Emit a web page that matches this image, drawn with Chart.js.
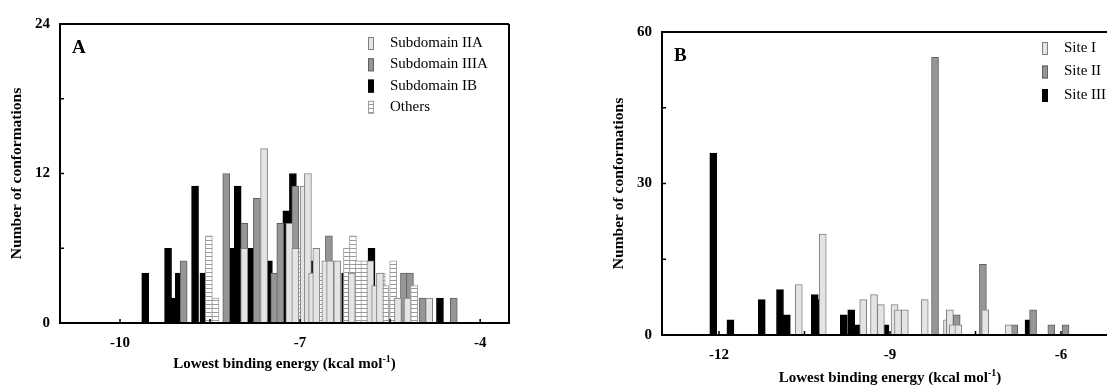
<!DOCTYPE html>
<html>
<head>
<meta charset="utf-8">
<script src="https://cdn.jsdelivr.net/npm/chart.js@4.4.0/dist/chart.umd.min.js"></script>
<style>
html, body { margin: 0; padding: 0; background: #fff; overflow: hidden; width: 1107px; height: 385px; }
#boxA { position: absolute; left: 0; top: 0; width: 540px; height: 385px; }
#boxB { position: absolute; left: 600px; top: 0; width: 530px; height: 385px; }
</style>
</head>
<body>
<div id="boxA"><canvas id="chartA"></canvas></div>
<div id="boxB"><canvas id="chartB"></canvas></div>
<script>
// Panel A - binding energy (kcal/mol) and counts per subdomain
var iiaE  = [-7.93, -7.60, -7.18, -7.08, -6.94, -6.87, -6.80, -6.73, -6.58, -6.50, -6.38, -6.14, -5.83, -5.75, -5.67, -5.37, -5.21, -4.85];
var iiaN  = [6, 14, 8, 6, 11, 12, 4, 6, 5, 5, 5, 4, 5, 3, 4, 2, 2, 2];
var iiiaE = [-8.94, -8.23, -7.93, -7.72, -7.43, -7.33, -7.08, -6.52, -6.22, -6.05, -5.94, -5.45, -5.27, -5.17, -4.96, -4.44];
var iiiaN = [5, 12, 8, 10, 4, 8, 11, 7, 3, 4, 3, 2, 4, 4, 2, 2];
var ibE   = [-9.58, -9.20, -9.11, -9.02, -8.75, -8.61, -8.13, -8.04, -7.83, -7.52, -7.23, -7.12, -6.82, -6.25, -5.81, -4.67];
var ibN   = [4, 6, 2, 4, 11, 4, 6, 11, 6, 5, 9, 12, 5, 4, 6, 2];
var othE  = [-8.52, -8.41, -7.01, -6.66, -6.22, -6.12, -6.02, -5.93, -5.64, -5.58, -5.45, -5.10];
var othN  = [7, 2, 6, 4, 6, 7, 5, 5, 4, 3, 5, 3];

// Panel B - counts per site
var s1E = [-10.60, -10.18, -9.47, -9.28, -9.16, -8.92, -8.86, -8.74, -8.39, -8.00, -7.95, -7.90, -7.80, -7.33, -6.92];
var s1N = [10, 20, 7, 8, 6, 6, 5, 5, 7, 3, 5, 2, 2, 5, 2];
var s2E = [-8.21, -7.83, -7.37, -6.82, -6.49, -6.17, -5.92];
var s2N = [55, 4, 14, 2, 5, 2, 2];
var s3E = [-12.10, -11.80, -11.25, -10.93, -10.81, -10.32, -10.27, -9.81, -9.68, -9.58, -9.08, -6.57];
var s3N = [36, 3, 7, 9, 4, 8, 7, 4, 5, 2, 2, 3];

var xTicksA = [-10, -8.5, -7, -5.5, -4];
var yTicksA = [0, 6, 12, 18, 24];
var xTicksB = [-12, -10.5, -9, -7.5, -6];
var yTicksB = [0, 15, 30, 45, 60];

var serif = "'Liberation Serif', 'Times New Roman', serif";

function pts(xs, ys) {
    return xs.map(function(x, i) { return {x: x, y: ys[i]}; });
}

function stripes() {
    var c = document.createElement('canvas');
    c.width = 4; c.height = 4;
    var g = c.getContext('2d');
    g.fillStyle = '#fff'; g.fillRect(0, 0, 4, 4);
    g.fillStyle = '#999'; g.fillRect(0, 0, 4, 1);
    return g.createPattern(c, 'repeat');
}

function bars(label, xs, ys, fill, border, order) {
    return {
        label: label, data: pts(xs, ys), backgroundColor: fill, borderColor: border,
        borderWidth: 1, barThickness: 7, order: order, grouped: false
    };
}

// frame, inward ticks, panel letter, legend and x title with superscript
var decor = {
    id: 'decor',
    afterDraw: function(chart, args, o) {
        var ctx = chart.ctx, a = chart.chartArea;
        var xs = chart.scales.x, ys = chart.scales.y;
        ctx.save();
        ctx.strokeStyle = '#000';
        ctx.lineWidth = 2;
        ctx.beginPath();
        ctx.moveTo(a.right, a.top); ctx.lineTo(a.left, a.top);
        ctx.lineTo(a.left, a.bottom); ctx.lineTo(a.right, a.bottom);
        ctx.lineTo(a.right, a.top);
        ctx.stroke();
        ctx.lineWidth = 1.5;
        ctx.beginPath();
        xs.ticks.forEach(function(t) {
            var px = xs.getPixelForValue(t.value);
            ctx.moveTo(px, a.bottom); ctx.lineTo(px, a.bottom - 4);
        });
        ys.ticks.forEach(function(t) {
            var py = ys.getPixelForValue(t.value);
            ctx.moveTo(a.left, py); ctx.lineTo(a.left + 4, py);
        });
        ctx.stroke();

        ctx.fillStyle = '#000';
        ctx.textBaseline = 'alphabetic';
        ctx.font = 'bold 19px ' + serif;
        ctx.fillText(o.letter, a.left + 12, a.top + 29);

        // legend
        ctx.font = o.legendSize + 'px ' + serif;
        chart.data.datasets.forEach(function(ds, i) {
            var y = a.top + o.legendY + i * o.legendDy;
            ctx.fillStyle = ds.backgroundColor;
            ctx.fillRect(a.left + o.legendX, y - 6, 6, 13);
            ctx.strokeStyle = ds.borderColor;
            ctx.lineWidth = 1;
            ctx.strokeRect(a.left + o.legendX + 0.5, y - 5.5, 5, 12);
            ctx.fillStyle = '#000';
            ctx.textBaseline = 'middle';
            ctx.fillText(ds.label, a.left + o.legendX + 22, y);
        });

        // x axis title
        var main = 'Lowest binding energy (kcal mol', sup = '-1', end = ')';
        ctx.font = 'bold 15px ' + serif;
        var w1 = ctx.measureText(main).width, w3 = ctx.measureText(end).width;
        ctx.font = 'bold 10px ' + serif;
        var w2 = ctx.measureText(sup).width;
        var x0 = (a.left + a.right) / 2 - (w1 + w2 + w3) / 2;
        var by = a.bottom + o.titleOffset;
        ctx.textBaseline = 'alphabetic';
        ctx.font = 'bold 15px ' + serif;
        ctx.fillText(main, x0, by);
        ctx.font = 'bold 10px ' + serif;
        ctx.fillText(sup, x0 + w1, by - 6);
        ctx.font = 'bold 15px ' + serif;
        ctx.fillText(end, x0 + w1 + w2, by);
        ctx.restore();
    }
};

function makeChart(id, datasets, xmin, xmax, xt, ymax, yt, ylab, pad, yW, xH, yTitlePad, deco) {
    return new Chart(document.getElementById(id), {
        type: 'bar',
        data: { datasets: datasets },
        options: {
            responsive: true, maintainAspectRatio: false, animation: false,
            layout: { padding: pad },
            plugins: { legend: { display: false }, tooltip: { enabled: false }, decor: deco },
            scales: {
                x: {
                    type: 'linear', min: xmin, max: xmax, offset: false,
                    grid: { display: false, drawTicks: false }, border: { display: false },
                    afterBuildTicks: function(s) { s.ticks = xt.map(function(v) { return {value: v}; }); },
                    afterFit: function(s) { s.height = xH; },
                    ticks: {
                        autoSkip: false, maxRotation: 0, padding: 11, color: '#000',
                        font: { family: serif, size: 15, weight: 'bold' },
                        callback: function(v) { return Number.isInteger(v) ? String(v) : ''; }
                    }
                },
                y: {
                    min: 0, max: ymax,
                    grid: { display: false, drawTicks: false }, border: { display: false },
                    afterBuildTicks: function(s) { s.ticks = yt.map(function(v) { return {value: v}; }); },
                    afterFit: function(s) { s.width = yW; },
                    ticks: {
                        autoSkip: false, padding: 10, color: '#000',
                        font: { family: serif, size: 15, weight: 'bold' },
                        callback: function(v) { return v % ylab === 0 ? String(v) : ''; }
                    },
                    title: {
                        display: true, text: 'Number of conformations', color: '#000',
                        font: { family: serif, size: 15.5, weight: 'bold' },
                        padding: { top: yTitlePad, bottom: 0 }
                    }
                }
            }
        },
        plugins: [decor]
    });
}

var lightFill = '#e4e4e4', lightLine = '#808080';
var grayFill = '#969696', grayLine = '#606060';

makeChart('chartA', [
    bars('Subdomain IIA', iiaE, iiaN, lightFill, lightLine, 0),
    bars('Subdomain IIIA', iiiaE, iiiaN, grayFill, grayLine, 2),
    bars('Subdomain IB', ibE, ibN, '#000', '#000', 3),
    bars('Others', othE, othN, stripes(), '#a0a0a0', 1)
], -11, -3.52, xTicksA, 24, yTicksA, 12,
   { top: 24, left: 0, right: 31, bottom: 0 }, 60, 62, 8,
   { letter: 'A', legendX: 308, legendY: 19, legendDy: 21.3, legendSize: 15, titleOffset: 45 });

makeChart('chartB', [
    bars('Site I', s1E, s1N, lightFill, lightLine, 0),
    bars('Site II', s2E, s2N, grayFill, grayLine, 1),
    bars('Site III', s3E, s3N, '#000', '#000', 2)
], -13, -5, xTicksB, 60, yTicksB, 30,
   { top: 32, left: 0, right: 12, bottom: 0 }, 62, 50, 10,
   { letter: 'B', legendX: 380, legendY: 16, legendDy: 23.5, legendSize: 15, titleOffset: 47 });
</script>
</body>
</html>
